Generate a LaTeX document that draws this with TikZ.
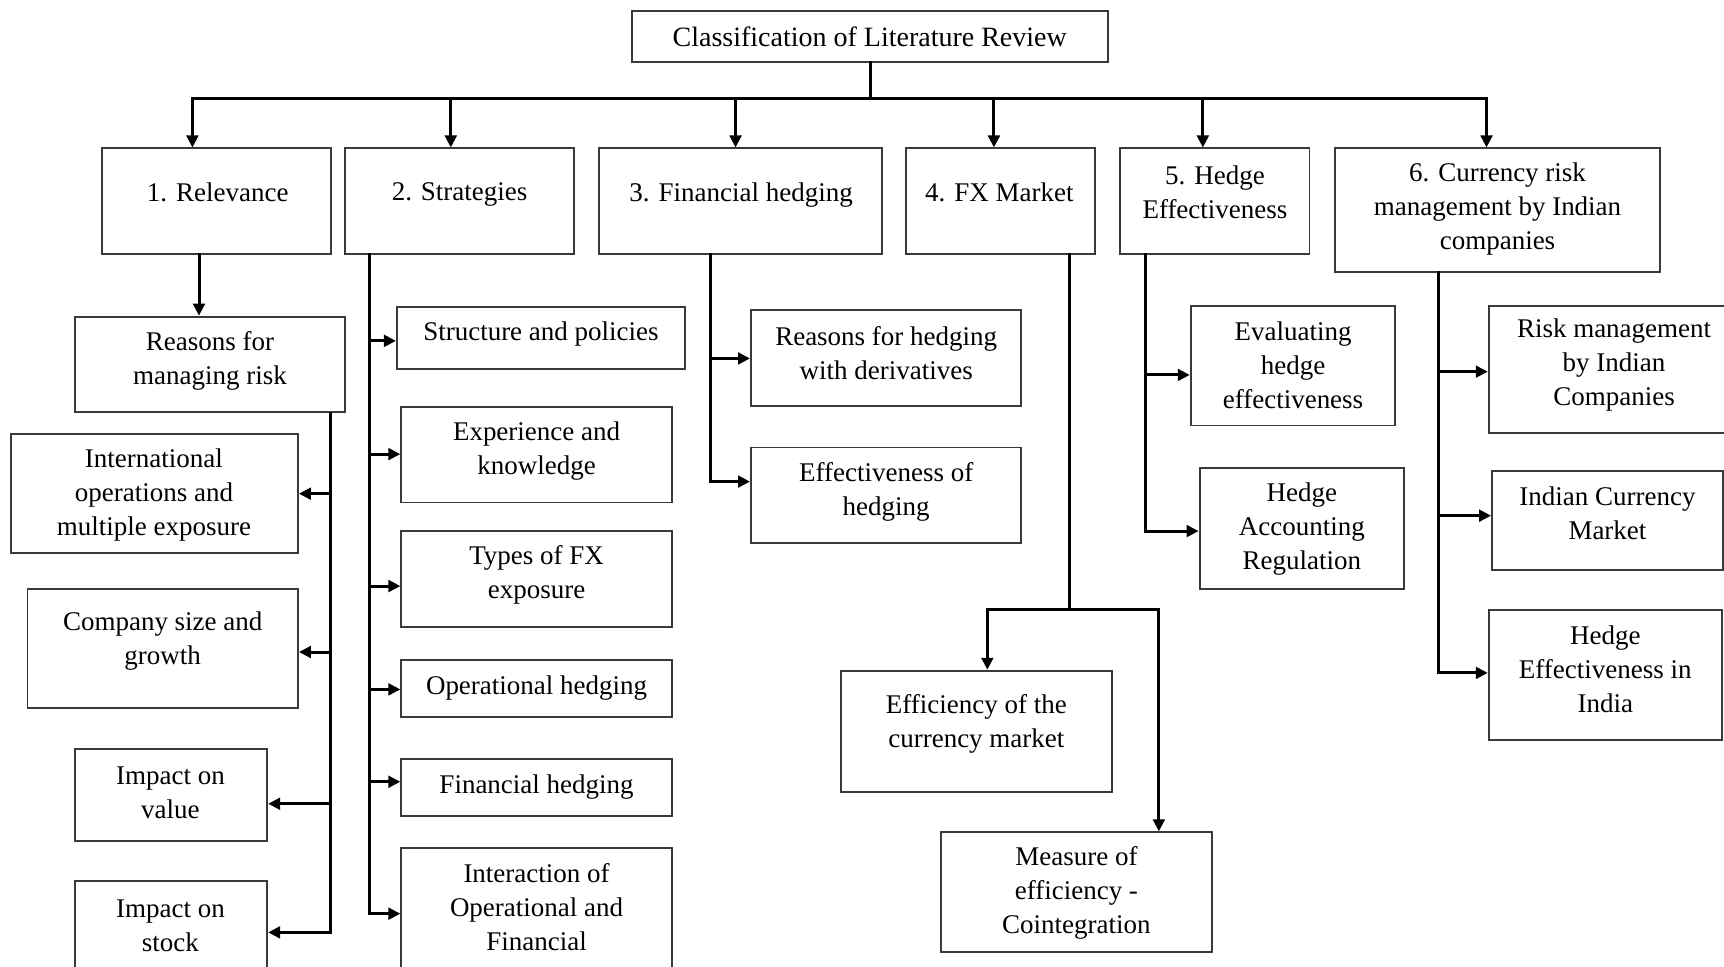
\documentclass[tikz,border=0pt]{standalone}
\usepackage{fontspec}
\setmainfont{Liberation Serif}
\usetikzlibrary{arrows.meta}
\definecolor{boxline}{HTML}{3A3A3A}
\begin{document}
\begin{tikzpicture}[x=0.55pt,y=-0.55pt,
  bx/.style 2 args={draw=boxline, line width=0.95pt, fill=white, rectangle,
    inner sep=0pt, minimum width=#1*0.55pt, minimum height=#2*0.55pt},
  txt/.style={align=center, inner sep=0pt, font=\fontsize{13.5}{17}\selectfont},
  line/.style={line width=1.5pt, line cap=rect, line join=miter},
  arr/.style={line width=1.5pt, line cap=rect, line join=miter,
    -{Triangle[length=6pt,width=5.8pt]}}
]
\useasboundingbox (0,0) rectangle (1568,879);
\fill[white] (0,0) rectangle (1568,879);

% ---------- top level ----------
\node[bx={433}{46}] (title) at (791.5,33) {};
\node[txt,font=\fontsize{14}{17}\selectfont] (titlet) at (791,33) {Classification of Literature Review};

% ---------- main categories ----------
\node[bx={208}{96}] (rel) at (197,183) {};
\node[txt] (relt) at (198,175) {1. Relevance};
\node[bx={208}{96}] (str) at (418,183) {};
\node[txt] (strt) at (418,177) {2. Strategies};
\node[bx={257}{96}] (fin) at (673.5,183) {};
\node[txt] (fint) at (674,177) {3. Financial hedging};
\node[bx={172}{96}] (fx) at (910,183) {};
\node[txt] (fxt) at (909,175) {4. FX Market};
\node[bx={172}{96}] (he) at (1105,183) {};
\node[txt] (het) at (1105,174.5) {5. Hedge\\Effectiveness};
\node[bx={296}{112}] (cur) at (1362,191) {};
\node[txt] (curt) at (1362,190) {6. Currency risk\\management by Indian\\companies};

% ---------- 1. Relevance ----------
\node[bx={246}{87}] (rmr) at (191,331.5) {};
\node[txt] (rmrt) at (191,328) {Reasons for\\managing risk};
\node[bx={261}{108}] (intl) at (140.5,449) {};
\node[txt] (intlt) at (140,450) {International\\operations and\\multiple exposure};
\node[bx={246}{108}] (csg) at (148,590) {};
\node[txt] (csgt) at (148,583) {Company size and\\growth};
\node[bx={175}{84}] (iov) at (155.5,723) {};
\node[txt] (iovt) at (155,721) {Impact on\\value};
\node[bx={175}{84}] (ios) at (155.5,843) {};
\node[txt] (iost) at (155,842) {Impact on\\stock};

% ---------- 2. Strategies ----------
\node[bx={262}{57}] (sp) at (492,307.5) {};
\node[txt] (spt) at (492,304) {Structure and policies};
\node[bx={246}{87}] (ek) at (488,413.5) {};
\node[txt] (ekt) at (488,410) {Experience and\\knowledge};
\node[bx={246}{87}] (tfx) at (488,526.5) {};
\node[txt] (tfxt) at (488,523) {Types of FX\\exposure};
\node[bx={246}{52}] (oh) at (488,626) {};
\node[txt] (oht) at (488,626) {Operational hedging};
\node[bx={246}{52}] (fh) at (488,716) {};
\node[txt] (fht) at (488,716) {Financial hedging};
\node[bx={246}{109}] (iof) at (488,825.5) {};
\node[txt] (ioft) at (488,825) {Interaction of\\Operational and\\Financial};

% ---------- 3. Financial hedging ----------
\node[bx={246}{87}] (rhd) at (806,325.5) {};
\node[txt] (rhdt) at (806,321.5) {Reasons for hedging\\with derivatives};
\node[bx={246}{87}] (eoh) at (806,450.5) {};
\node[txt] (eoht) at (806,447.5) {Effectiveness of\\hedging};

% ---------- 4. FX Market ----------
\node[bx={246}{110}] (ecm) at (888,665) {};
\node[txt] (ecmt) at (888,658) {Efficiency of the\\currency market};
\node[bx={246}{109}] (moe) at (979,811.5) {};
\node[txt] (moet) at (979,812) {Measure of\\efficiency -\\Cointegration};

% ---------- 5. Hedge Effectiveness ----------
\node[bx={186}{109}] (ehe) at (1176,332.5) {};
\node[txt] (ehet) at (1176,332) {Evaluating\\hedge\\effectiveness};
\node[bx={186}{110}] (har) at (1184,481) {};
\node[txt] (hart) at (1184,481) {Hedge\\Accounting\\Regulation};

% ---------- 6. Currency risk management ----------
\node[bx={221}{116}] (rmic) at (1464.5,336) {};
\node[txt] (rmict) at (1468,332) {Risk management\\by Indian\\Companies};
\node[bx={210}{90}] (icm) at (1462,473) {};
\node[txt] (icmt) at (1462,467) {Indian Currency\\Market};
\node[bx={212}{118}] (hei) at (1460,614) {};
\node[txt] (heit) at (1460,609) {Hedge\\Effectiveness in\\India};

% ---------- connectors: title to categories ----------
\coordinate (busL) at (175,90);
\coordinate (busR) at (1352,90);
\draw[line] (title.south) -- (title.south |- busL);
\draw[line] (busL) -- (busR);
\foreach \n/\x in {rel/175, str/410, fin/669, fx/904, he/1094, cur/1352} {
  \coordinate (d) at (\x,90);
  \draw[arr] (d) -- (d |- \n.north);
}

% ---------- connectors: 1. Relevance ----------
\coordinate (r0) at (181,0);
\draw[arr] (rel.south -| r0) -- (rmr.north -| r0);
\coordinate (t1) at (301,848);
\draw[line] (rmr.south -| t1) -- (t1);
\foreach \n/\y in {intl/449, csg/593, iov/731, ios/848} {
  \coordinate (a) at (301,\y);
  \draw[arr] (a) -- (a -| \n.east);
}

% ---------- connectors: 2. Strategies ----------
\coordinate (t2) at (336,831);
\draw[line] (str.south -| t2) -- (t2);
\foreach \n/\y in {sp/310, ek/413, tfx/533, oh/627, fh/711, iof/831} {
  \coordinate (a) at (336,\y);
  \draw[arr] (a) -- (a -| \n.west);
}

% ---------- connectors: 3. Financial hedging ----------
\coordinate (t3) at (646,438);
\draw[line] (fin.south -| t3) -- (t3);
\foreach \n/\y in {rhd/326, eoh/438} {
  \coordinate (a) at (646,\y);
  \draw[arr] (a) -- (a -| \n.west);
}

% ---------- connectors: 4. FX Market ----------
\coordinate (t4) at (973,554);
\coordinate (f1) at (898,554);
\coordinate (f2) at (1054,554);
\draw[line] (fx.south -| t4) -- (t4);
\draw[arr] (t4) -- (f1) -- (ecm.north -| f1);
\draw[arr] (t4) -- (f2) -- (moe.north -| f2);

% ---------- connectors: 5. Hedge Effectiveness ----------
\coordinate (t5) at (1042,483);
\draw[line] (he.south -| t5) -- (t5);
\foreach \n/\y in {ehe/341, har/483} {
  \coordinate (a) at (1042,\y);
  \draw[arr] (a) -- (a -| \n.west);
}

% ---------- connectors: 6. Currency risk management ----------
\coordinate (t6) at (1308,612);
\draw[line] (cur.south -| t6) -- (t6);
\foreach \n/\y in {rmic/338, icm/469, hei/612} {
  \coordinate (a) at (1308,\y);
  \draw[arr] (a) -- (a -| \n.west);
}
\end{tikzpicture}
\end{document}
